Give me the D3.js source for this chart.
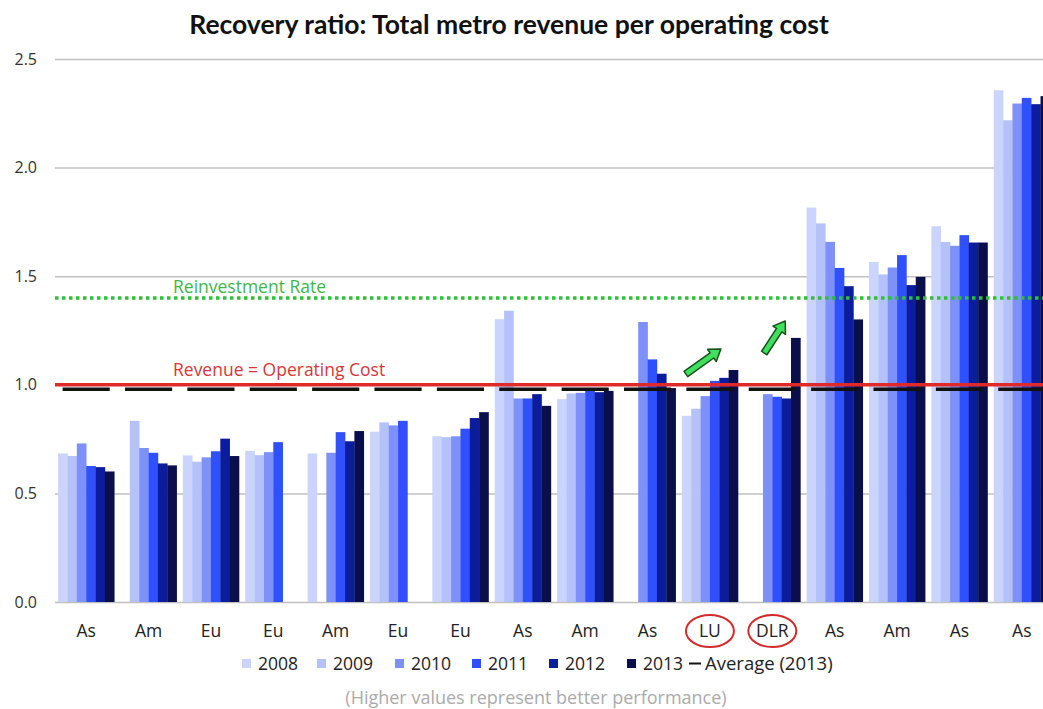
<!DOCTYPE html>
<html>
<head>
<meta charset="utf-8">
<script src="https://cdn.jsdelivr.net/npm/d3@7"></script>
<style>
  body { margin: 0; background: #fff; }
  svg { display: block; font-family: "Open Sans", Lato, sans-serif; }
</style>
</head>
<body>
<div id="chart"></div>
<script>
const categories = ['As', 'Am', 'Eu', 'Eu', 'Am', 'Eu', 'Eu', 'As', 'Am', 'As', 'LU', 'DLR', 'As', 'Am', 'As', 'As'];
const years = ['2008', '2009', '2010', '2011', '2012', '2013'];
const yearColors = ['#cbd4fc', '#b5c2fa', '#7d91f8', '#2f50fb', '#0b1d9c', '#0a0f4b'];

// one array per year, one value per metro (null = no data)
const v2008 = [0.684, null, 0.675, 0.696, 0.684, 0.784, 0.763, 1.302, 0.934, null, 0.857, null, 1.816, 1.566, 1.730, 2.356];
const v2009 = [0.672, 0.834, 0.646, 0.676, null, 0.827, 0.759, 1.341, 0.960, null, 0.890, null, 1.743, 1.508, 1.658, 2.218];
const v2010 = [0.730, 0.709, 0.666, 0.690, 0.687, 0.813, 0.763, 0.937, 0.963, 1.289, 0.948, 0.957, 1.658, 1.540, 1.640, 2.295];
const v2011 = [0.626, 0.687, 0.694, 0.736, 0.782, 0.834, 0.798, 0.937, 0.979, 1.117, 1.018, 0.945, 1.538, 1.597, 1.689, 2.321];
const v2012 = [0.621, 0.638, 0.752, null, 0.740, null, 0.847, 0.957, 0.966, 1.051, 1.032, 0.937, 1.454, 1.459, 1.655, 2.292];
const v2013 = [0.601, 0.629, 0.672, null, 0.787, null, 0.874, 0.903, 0.972, 0.985, 1.068, 1.216, 1.301, 1.497, 1.655, 2.329];
const seriesValues = [v2008, v2009, v2010, v2011, v2012, v2013];

const average2013 = 0.98;
const breakEven = 1.0;
const reinvestmentRate = 1.4;
const yTicks = [0, 0.5, 1.0, 1.5, 2.0, 2.5];
const circled = ['LU', 'DLR'];

const width = 1043, height = 709;

const svg = d3.select('#chart').append('svg')
  .attr('width', width)
  .attr('height', height);

const x = d3.scaleBand()
  .domain(d3.range(categories.length))
  .range([55, 1053])
  .paddingInner(0.1)
  .paddingOuter(0.05);

const xYear = d3.scaleBand()
  .domain(years)
  .range([0, x.bandwidth()]);

const y = d3.scaleLinear()
  .domain([0, 2.5])
  .range([602, 59]);

// Title
svg.append('text')
  .attr('x', 509)
  .attr('y', 34)
  .attr('text-anchor', 'middle')
  .attr('font-family', 'Lato, sans-serif')
  .attr('font-size', 26.5)
  .attr('font-weight', 'bold')
  .attr('fill', '#111')
  .text('Recovery ratio: Total metro revenue per operating cost');

// Gridlines + y labels
const yAxis = d3.axisLeft(y)
  .tickValues(yTicks)
  .tickSize(-(width - 55))
  .tickFormat(d3.format('.1f'))
  .tickPadding(18);

const gy = svg.append('g')
  .attr('transform', 'translate(55,0)')
  .call(yAxis);
gy.select('.domain').remove();
gy.selectAll('.tick line').attr('stroke', '#c0c0c0').attr('stroke-width', 1.5);
gy.selectAll('.tick text')
  .attr('font-size', 16)
  .attr('fill', '#333')
  .attr('font-family', '"Open Sans", sans-serif');

// Bars
const groups = svg.append('g').selectAll('g')
  .data(categories)
  .join('g')
  .attr('transform', (d, i) => `translate(${x(i)},0)`);

groups.selectAll('rect')
  .data((d, i) => years.map((yr, k) => ({ yr, k, v: seriesValues[k][i] })).filter(e => e.v != null))
  .join('rect')
  .attr('x', e => xYear(e.yr))
  .attr('width', xYear.bandwidth() + 0.3)
  .attr('y', e => y(e.v))
  .attr('height', e => y(0) - y(e.v))
  .attr('fill', e => yearColors[e.k]);

// Average (2013) dashes per group
groups.append('line')
  .attr('x1', 4.5)
  .attr('x2', x.bandwidth() - 4.5)
  .attr('y1', y(average2013))
  .attr('y2', y(average2013))
  .attr('stroke', '#111')
  .attr('stroke-width', 3.5);

// Reinvestment rate line
svg.append('line')
  .attr('x1', 55).attr('x2', width)
  .attr('y1', y(reinvestmentRate)).attr('y2', y(reinvestmentRate))
  .attr('stroke', '#2fbf3a')
  .attr('stroke-width', 3.5)
  .attr('stroke-dasharray', '3.5,3.5');

svg.append('text')
  .attr('x', 173)
  .attr('y', y(reinvestmentRate) - 5)
  .attr('font-size', 17.5)
  .attr('fill', '#3cb84a')
  .text('Reinvestment Rate');

// Revenue = operating cost line
svg.append('line')
  .attr('x1', 55).attr('x2', width)
  .attr('y1', y(breakEven)).attr('y2', y(breakEven))
  .attr('stroke', '#e02a2a')
  .attr('stroke-width', 3.5);

svg.append('text')
  .attr('x', 173)
  .attr('y', y(breakEven) - 9)
  .attr('font-size', 17.5)
  .attr('fill', '#d8363a')
  .text('Revenue = Operating Cost');

// Green improvement arrows
function blockArrow(x0, y0, x1, y1) {
  const dx = x1 - x0, dy = y1 - y0;
  const len = Math.hypot(dx, dy);
  const ux = dx / len, uy = dy / len, nx = -uy, ny = ux;
  const shaft = 3.2, head = 7.5, headLen = 11;
  const bx = x1 - ux * headLen, by = y1 - uy * headLen;
  const pts = [
    [x0 + nx * shaft, y0 + ny * shaft],
    [bx + nx * shaft, by + ny * shaft],
    [bx + nx * head, by + ny * head],
    [x1, y1],
    [bx - nx * head, by - ny * head],
    [bx - nx * shaft, by - ny * shaft],
    [x0 - nx * shaft, y0 - ny * shaft]
  ];
  svg.append('path')
    .attr('d', d3.line()(pts) + 'Z')
    .attr('fill', '#3fe05c')
    .attr('stroke', '#17501d')
    .attr('stroke-width', 1.5)
    .attr('stroke-linejoin', 'round');
}
const luIdx = categories.indexOf('LU');
const dlrIdx = categories.indexOf('DLR');
blockArrow(x(luIdx) + 4, 374, x(luIdx) + 39, 349);
blockArrow(x(dlrIdx) + 20, 353, x(dlrIdx) + 41, 321);

// Category labels
svg.append('g').selectAll('text')
  .data(categories)
  .join('text')
  .attr('x', (d, i) => x(i) + x.bandwidth() / 2)
  .attr('y', 637)
  .attr('text-anchor', 'middle')
  .attr('font-size', 17.5)
  .attr('fill', '#222')
  .text(d => d);

svg.append('g').selectAll('ellipse')
  .data(categories.map((c, i) => ({ c, i })).filter(e => circled.includes(e.c)))
  .join('ellipse')
  .attr('cx', e => x(e.i) + x.bandwidth() / 2)
  .attr('cy', 631)
  .attr('rx', 24)
  .attr('ry', 16)
  .attr('fill', 'none')
  .attr('stroke', '#d42a2a')
  .attr('stroke-width', 2);

// Legend
const legendX = [242, 317, 395, 472, 549, 627];
const legend = svg.append('g');
years.forEach((yr, k) => {
  legend.append('rect')
    .attr('x', legendX[k])
    .attr('y', 659)
    .attr('width', 9)
    .attr('height', 9)
    .attr('fill', yearColors[k]);
  legend.append('text')
    .attr('x', legendX[k] + 16)
    .attr('y', 670)
    .attr('font-size', 17.5)
    .attr('fill', '#222')
    .text(yr);
});
legend.append('line')
  .attr('x1', 689).attr('x2', 701)
  .attr('y1', 663.5).attr('y2', 663.5)
  .attr('stroke', '#111')
  .attr('stroke-width', 2);
legend.append('text')
  .attr('x', 705)
  .attr('y', 670)
  .attr('font-size', 18.5)
  .attr('fill', '#222')
  .text('Average (2013)');

// Footnote
svg.append('text')
  .attr('x', 536)
  .attr('y', 704)
  .attr('text-anchor', 'middle')
  .attr('font-size', 18)
  .attr('fill', '#ababab')
  .text('(Higher values represent better performance)');
</script>
</body>
</html>
